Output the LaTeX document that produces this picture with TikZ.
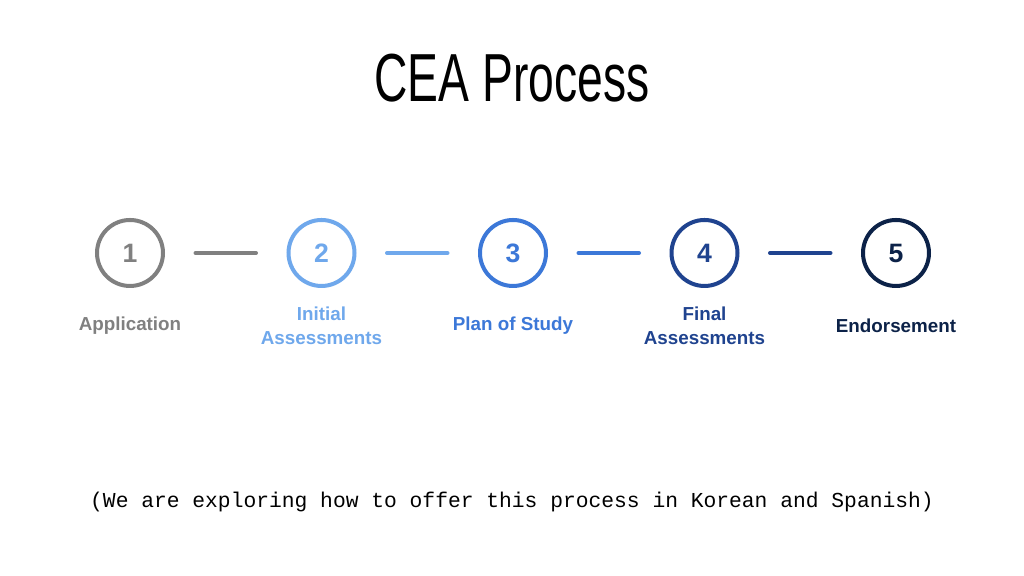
\documentclass[tikz,border=0pt]{standalone}
\usepackage{fontspec}
\setmainfont{Liberation Sans}
\setmonofont{Liberation Mono}
\newfontfamily\titlefont[FakeStretch=0.68]{Liberation Sans}
\usepackage{xcolor}
\usepackage{tikz}
\usetikzlibrary{positioning,calc}

\definecolor{stepgrey}{HTML}{808080}
\definecolor{steplight}{HTML}{6FA8EC}
\definecolor{stepmid}{HTML}{3C78D8}
\definecolor{stepdark}{HTML}{1F438F}
\definecolor{stepnavy}{HTML}{0C2248}

\begin{document}
\begin{tikzpicture}[
    x=0.5pt, y=0.5pt,
    node distance=60.75pt,
    stage/.style={circle, draw, line width=2pt, minimum size=33pt, inner sep=0pt, font=\bfseries\fontsize{13.3}{15}\selectfont},
    lbl/.style={align=center, font=\bfseries\fontsize{9.4}{12}\selectfont, yshift=-36.5pt},
    link/.style={line width=2pt, line cap=round, shorten <=15.25pt, shorten >=15.25pt}
]
    \useasboundingbox (0,0) rectangle (1024,576);
    \fill[white] (0,0) rectangle (1024,576);

    \node [font=\titlefont\fontsize{34}{38}\selectfont] (title) at (512,498) {CEA Process};

    \node [stage, stepgrey, text=stepgrey] (s1) at (130,323) {1};
    \node [stage, steplight, text=steplight, right=of s1] (s2) {2};
    \node [stage, stepmid, text=stepmid, right=of s2] (s3) {3};
    \node [stage, stepdark, text=stepdark, right=of s3] (s4) {4};
    \node [stage, stepnavy, text=stepnavy, right=of s4] (s5) {5};

    \node [lbl, text=stepgrey] (l1) at (s1) {Application};
    \node [lbl, text=steplight] (l2) at (s2) {Initial\\Assessments};
    \node [lbl, text=stepmid] (l3) at (s3) {Plan of Study};
    \node [lbl, text=stepdark] (l4) at (s4) {Final\\Assessments};
    \node [lbl, text=stepnavy] (l5) at (s5) {Endorsement};

    \draw [link, stepgrey] (s1) -- (s2);
    \draw [link, steplight] (s2) -- (s3);
    \draw [link, stepmid] (s3) -- (s4);
    \draw [link, stepdark] (s4) -- (s5);

    \node [font=\ttfamily\fontsize{10.65}{13}\selectfont] (note) at (512,74) {(We are exploring how to offer this process in Korean and Spanish)};

\end{tikzpicture}
\end{document}
